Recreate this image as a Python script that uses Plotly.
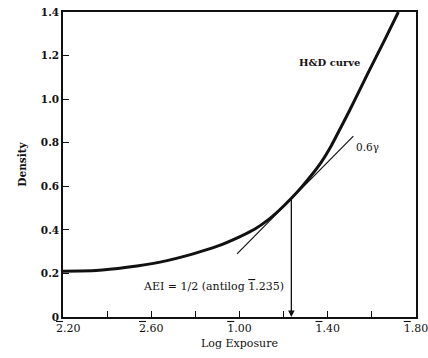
import plotly.graph_objects as go

# H&D curve (log exposure, density)
log_exposure = [-1.80, -1.65, -1.51, -1.36, -1.21, -1.10, -1.00, -0.93, -0.869, -0.82, -0.765,
                -0.72, -0.673, -0.63, -0.582, -0.552, -0.50, -0.42, -0.343, -0.280]
density = [0.21, 0.213, 0.228, 0.252, 0.29, 0.325, 0.368, 0.404, 0.447, 0.49, 0.545,
           0.595, 0.652, 0.71, 0.79, 0.848, 0.95, 1.115, 1.27, 1.40]

# 0.6 gamma tangent line
tangent_x = [-1.011, -0.484]
tangent_y = [0.29, 0.83]

# AEI point
aei_x = -0.765
aei_y = 0.545

OV = '<span style="text-decoration:overline">{}</span>'
x_tickvals = [-1.8, -1.6, -1.4, -1.2, -1.0, -0.8, -0.6, -0.4, -0.2]
x_ticktext = ["\u00a0\u00a0\u00a0" + OV.format("2") + ".20", "", OV.format("2") + ".60", "",
              OV.format("1") + ".00", "", OV.format("1") + ".40", "", OV.format("1") + ".80"]
y_tickvals = [0, 0.2, 0.4, 0.6, 0.8, 1.0, 1.2, 1.4]
y_ticktext = ["<b>0</b>", "<b>0.2</b>", "<b>0.4</b>", "<b>0.6</b>", "<b>0.8</b>", "<b>1.0</b>", "<b>1.2</b>", "<b>1.4</b>"]

ink = "#111111"
serif = "DejaVu Serif, Liberation Serif, serif"

fig = go.Figure()
fig.add_trace(go.Scatter(x=log_exposure, y=density, mode="lines",
                         line=dict(color=ink, width=3, shape="spline", smoothing=0.6),
                         hoverinfo="skip", showlegend=False))
fig.add_trace(go.Scatter(x=tangent_x, y=tangent_y, mode="lines",
                         line=dict(color=ink, width=1.2), hoverinfo="skip", showlegend=False))

fig.add_annotation(x=aei_x, y=0, ax=aei_x, ay=aei_y, xref="x", yref="y", axref="x", ayref="y",
                   showarrow=True, arrowhead=2, arrowsize=1, arrowwidth=1.3, arrowcolor=ink, text="")
fig.add_annotation(x=-0.74, y=1.17, xref="x", yref="y", text="<b>H&amp;D curve</b>", showarrow=False,
                   font=dict(family=serif, size=10, color=ink), xanchor="left", yanchor="middle")
fig.add_annotation(x=-0.481, y=0.78, xref="x", yref="y", text="0.6\u03b3", showarrow=False,
                   font=dict(family=serif, size=10.5, color=ink), xanchor="left", yanchor="middle")
fig.add_annotation(x=-1.446, y=0.142, xref="x", yref="y",
                   text="AEI = 1/2 (antilog " + OV.format("1") + ".235)",
                   showarrow=False, font=dict(family=serif, size=11, color=ink),
                   xanchor="left", yanchor="middle")

fig.update_layout(
    width=428, height=358,
    margin=dict(l=63, r=12, t=12, b=41, autoexpand=False),
    paper_bgcolor="white", plot_bgcolor="white",
    font=dict(family=serif, size=10, color=ink),
    xaxis=dict(range=[-1.8, -0.2], tickvals=x_tickvals, ticktext=x_ticktext, automargin=False,
               ticklabeloverflow="allow",
               ticks="inside", ticklen=6, tickwidth=1, tickcolor=ink,
               showline=True, linewidth=1.5, linecolor=ink, mirror=True,
               showgrid=False, zeroline=False,
               tickfont=dict(family=serif, size=11, color=ink),
               title=dict(text="Log Exposure", font=dict(family=serif, size=11, color=ink), standoff=5)),
    yaxis=dict(range=[0, 1.4], tickvals=y_tickvals, ticktext=y_ticktext, automargin=False,
               ticklabeloverflow="allow",
               ticks="inside", ticklen=6, tickwidth=1, tickcolor=ink,
               showline=True, linewidth=1.5, linecolor=ink, mirror=True,
               showgrid=False, zeroline=False,
               tickfont=dict(family=serif, size=10.5, color=ink),
               title=dict(text="<b>Density</b>", font=dict(family=serif, size=10.5, color=ink), standoff=12)),
)

fig.write_html("out.html")
